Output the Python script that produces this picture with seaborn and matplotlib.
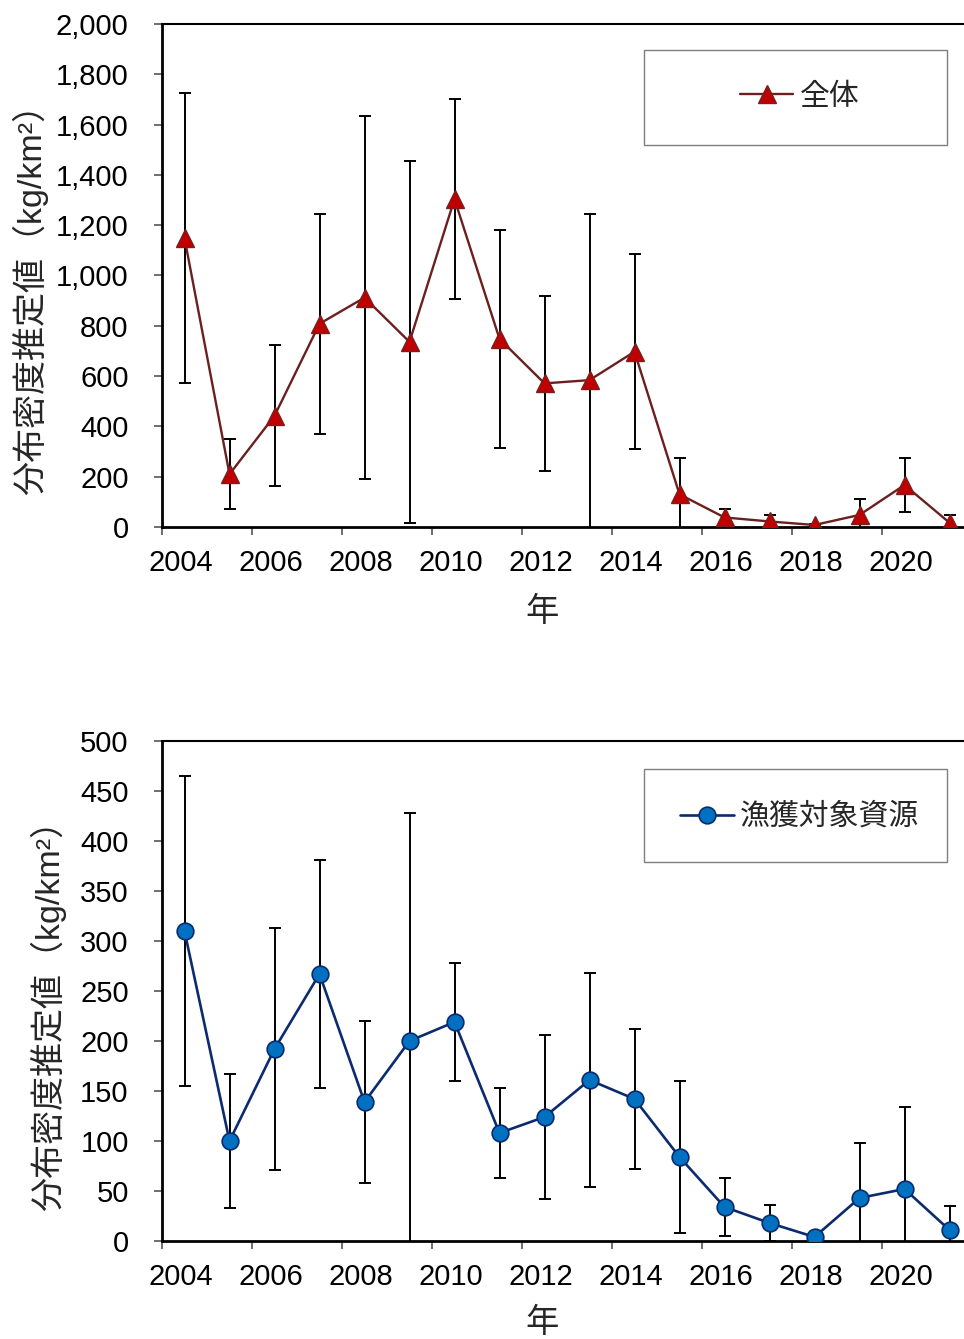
import matplotlib
matplotlib.use("Agg")
import matplotlib.pyplot as plt
import matplotlib.transforms as mtransforms
from matplotlib.patches import Rectangle
from matplotlib.ticker import FixedLocator, StrMethodFormatter
import seaborn as sns
import pandas as pd

# ---------------- data ----------------
years = list(range(2004, 2022))
total_mean = [1149, 210, 442, 808, 912, 736, 1304, 748, 571, 584, 697, 130, 38, 22, 8, 48, 167, 17]
total_err = [575, 140, 280, 437, 721, 719, 398, 433, 347, 661, 388, 143, 34, 26, 5, 62, 107, 32]
target_mean = [310, 100, 192, 267, 139, 200, 219, 108, 124, 161, 142, 84, 34, 18, 4, 43, 52, 11]
target_err = [155, 67, 121, 114, 81, 228, 59, 45, 82, 107, 70, 76, 29, 18, 3, 55, 82, 24]
label_total = "全体"
label_target = "漁獲対象資源"
ylabel_text = "分布密度推定値（kg/km²）"
xlabel_text = "年"
tick_years = years[::2]

sns.set_style("white")
plt.rcParams["font.family"] = ["Liberation Sans", "Noto Sans CJK JP", "DejaVu Sans"]

FS = 21
fig = plt.figure(figsize=(9.64, 13.39), dpi=100)
ax1 = fig.add_axes([162 / 964, (1339 - 527) / 1339, 810 / 964, 503 / 1339])
ax2 = fig.add_axes([162 / 964, (1339 - 1241) / 1339, 810 / 964, 500 / 1339])

df_total = pd.DataFrame({"year": years, "value": total_mean, "err": total_err})
df_target = pd.DataFrame({"year": years, "value": target_mean, "err": target_err})

shift = mtransforms.ScaledTranslation(-4 / 100, 0, fig.dpi_scale_trans)


def style_axes(ax, ymax, ystep, ylab_x, ylab_y, xlab_y, leg_box, leg_center):
    ax.set_xlim(years[0] - 0.5, years[-1] + 0.5)
    ax.set_ylim(0, ymax)
    ax.set_yticks(range(0, ymax + 1, ystep))
    ax.yaxis.set_major_formatter(StrMethodFormatter("{x:,.0f}"))
    ax.set_xticks(tick_years)
    ax.set_xticklabels([str(y) for y in tick_years])
    ax.xaxis.set_minor_locator(FixedLocator([y - 0.5 for y in tick_years]))
    ax.tick_params(axis="x", which="major", length=0, pad=16, labelsize=FS, colors="black")
    ax.tick_params(axis="x", which="minor", length=6, width=1.2, color="#555555", direction="out", bottom=True)
    ax.tick_params(axis="y", which="major", length=6, width=1.2, color="#555555", pad=18,
                   labelsize=FS, labelcolor="black", direction="out", left=True)
    for lab in ax.get_xticklabels():
        lab.set_transform(lab.get_transform() + shift)
    for side in ["left", "bottom"]:
        ax.spines[side].set_linewidth(2.0)
        ax.spines[side].set_color("black")
    ax.spines["top"].set_linewidth(1.5)
    ax.spines["top"].set_color("black")
    ax.spines["right"].set_visible(False)
    ax.grid(False)
    ax.set_ylabel(ylabel_text, fontsize=24.5, va="center", ha="center")
    ax.yaxis.set_label_coords(ylab_x, ylab_y)
    ax.set_xlabel(xlabel_text, fontsize=24, va="center", ha="center")
    ax.xaxis.set_label_coords(0.469, xlab_y)
    x0, y0, x1, y1 = leg_box
    ax.add_patch(Rectangle((x0, y0), x1 - x0, y1 - y0, transform=ax.transAxes,
                           facecolor="white", edgecolor="#7f7f7f", linewidth=1.0, zorder=5))
    h, l = ax.get_legend_handles_labels()
    leg = ax.legend(h, l, loc="center", bbox_to_anchor=leg_center, frameon=False,
                    fontsize=21.5, handlelength=1.8, handletextpad=0.2, numpoints=1)
    leg.set_zorder(6)


# ---------- top panel ----------
ax1.errorbar(df_total["year"], df_total["value"], yerr=df_total["err"], fmt="none",
             ecolor="black", elinewidth=1.4, capsize=4.5, capthick=1.4, zorder=2)
sns.lineplot(data=df_total, x="year", y="value", ax=ax1, color="#6B1F1F", linewidth=1.7,
             marker="^", markersize=13.5, markerfacecolor="#C00000", markeredgecolor="#7A1F1F",
             markeredgewidth=1.0, label=label_total, errorbar=None, zorder=3)
style_axes(ax1, 2000, 200, -0.163, 0.470, -0.169,
           (0.595, 0.759, 0.969, 0.948), (0.787, 0.855))

# ---------- bottom panel ----------
ax2.errorbar(df_target["year"], df_target["value"], yerr=df_target["err"], fmt="none",
             ecolor="black", elinewidth=1.4, capsize=4.5, capthick=1.4, zorder=2)
sns.lineplot(data=df_target, x="year", y="value", ax=ax2, color="#0B2B6E", linewidth=1.9,
             marker="o", markersize=12, markerfacecolor="#0070C0", markeredgecolor="#0B2B6E",
             markeredgewidth=1.2, label=label_target, errorbar=None, zorder=3)
style_axes(ax2, 500, 50, -0.141, 0.468, -0.164,
           (0.595, 0.758, 0.969, 0.944), (0.787, 0.848))

fig.savefig("out.png", dpi=100)
